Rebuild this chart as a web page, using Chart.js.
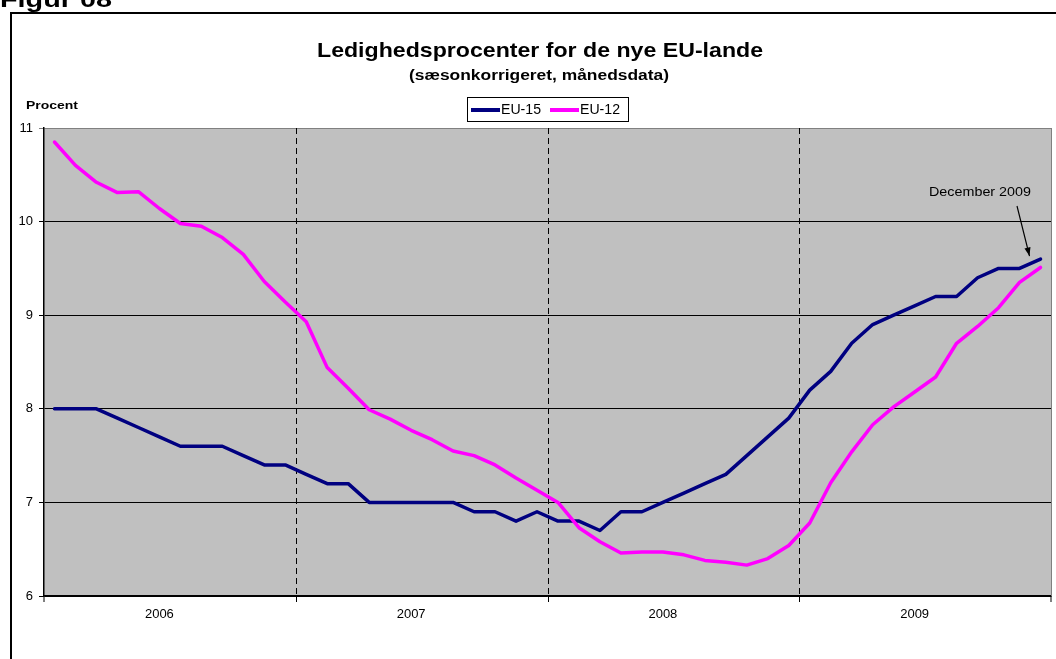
<!DOCTYPE html>
<html>
<head>
<meta charset="utf-8">
<title>Ledighedsprocenter for de nye EU-lande</title>
<script src="https://cdn.jsdelivr.net/npm/chart.js@4.4.1/dist/chart.umd.min.js"></script>
<style>
  html, body { margin: 0; padding: 0; background: #fff; }
  #wrap { width: 1056px; height: 659px; }
</style>
</head>
<body>
<div id="wrap"><canvas id="chart" width="1056" height="659"></canvas></div>
<script>
// Monthly data, Jan 2006 - Dec 2009
const years = ["2006", "2007", "2008", "2009"];
const months = [];
years.forEach(y => { for (let m = 1; m <= 12; m++) months.push(y + "-" + String(m).padStart(2, "0")); });

const eu15 = [
  8.0, 8.0, 8.0, 7.9, 7.8, 7.7, 7.6, 7.6, 7.6, 7.5, 7.4, 7.4,
  7.3, 7.2, 7.2, 7.0, 7.0, 7.0, 7.0, 7.0, 6.9, 6.9, 6.8, 6.9,
  6.8, 6.8, 6.7, 6.9, 6.9, 7.0, 7.1, 7.2, 7.3, 7.5, 7.7, 7.9,
  8.2, 8.4, 8.7, 8.9, 9.0, 9.1, 9.2, 9.2, 9.4, 9.5, 9.5, 9.6
];
const eu12 = [
  10.85, 10.6, 10.42, 10.31, 10.32, 10.14, 9.98, 9.95, 9.83, 9.65, 9.36, 9.14,
  8.93, 8.44, 8.22, 7.99, 7.89, 7.77, 7.67, 7.55, 7.5, 7.4, 7.26, 7.13,
  7.0, 6.73, 6.58, 6.46, 6.47, 6.47, 6.44, 6.38, 6.36, 6.33, 6.4, 6.54,
  6.78, 7.21, 7.54, 7.83, 8.02, 8.18, 8.34, 8.7, 8.88, 9.08, 9.35, 9.51
];
const yMin = 6, yMax = 11;

const NAVY = "#000080";
const PINK = "#FF00FF";
const FONT = "'Liberation Sans', Arial, sans-serif";

// draw text squeezed/stretched to a given width
function fitText(ctx, text, x, y, font, width, align, baseline) {
  ctx.save();
  ctx.font = font;
  ctx.textBaseline = baseline || "middle";
  ctx.textAlign = "left";
  const w = ctx.measureText(text).width;
  const sx = width / w;
  let left = x;
  if (align === "center") left = x - width / 2;
  ctx.translate(left, y);
  ctx.scale(sx, 1);
  ctx.fillText(text, 0, 0);
  ctx.restore();
}

const decorations = {
  id: "decorations",
  beforeDraw(chart) {
    const ctx = chart.ctx;
    const a = chart.chartArea;
    ctx.save();
    ctx.fillStyle = "#fff";
    ctx.fillRect(0, 0, chart.width, chart.height);
    ctx.fillStyle = "#C0C0C0";
    ctx.fillRect(a.left, a.top, a.right - a.left, a.bottom - a.top);
    // outer frame
    ctx.strokeStyle = "#000";
    ctx.lineWidth = 2;
    ctx.strokeRect(11, 13, chart.width + 20, chart.height + 20);
    ctx.restore();
  },
  beforeDatasetsDraw(chart) {
    const ctx = chart.ctx;
    const a = chart.chartArea;
    const x = chart.scales.x;
    ctx.save();
    ctx.strokeStyle = "#000";
    ctx.lineWidth = 1;
    ctx.setLineDash([6, 4]);
    for (let i = 1; i < years.length; i++) {
      const px = Math.round((x.getPixelForValue(i * 12 - 1) + x.getPixelForValue(i * 12)) / 2) + 0.5;
      ctx.beginPath();
      ctx.moveTo(px, a.top);
      ctx.lineTo(px, a.bottom);
      ctx.stroke();
    }
    ctx.restore();
  },
  afterDraw(chart) {
    const ctx = chart.ctx;
    const a = chart.chartArea;
    const x = chart.scales.x;
    ctx.save();
    ctx.fillStyle = "#000";

    // heading cut at top edge
    fitText(ctx, "Figur 08", 0, 7, "bold 22px " + FONT, 112, "left", "alphabetic");

    fitText(ctx, "Ledighedsprocenter for de nye EU-lande", 540, 51, "bold 21px " + FONT, 446, "center");
    fitText(ctx, "(sæsonkorrigeret, månedsdata)", 539, 76, "bold 14px " + FONT, 260, "center");
    fitText(ctx, "Procent", 26, 106, "bold 11px " + FONT, 52, "left");

    // legend
    ctx.strokeStyle = "#000";
    ctx.lineWidth = 1;
    ctx.strokeRect(467.5, 97.5, 161, 24);
    ctx.lineWidth = 4;
    ctx.strokeStyle = NAVY;
    ctx.beginPath(); ctx.moveTo(471, 110); ctx.lineTo(500, 110); ctx.stroke();
    ctx.strokeStyle = PINK;
    ctx.beginPath(); ctx.moveTo(550, 110); ctx.lineTo(579, 110); ctx.stroke();
    fitText(ctx, "EU-15", 501, 110.5, "14px " + FONT, 40, "left");
    fitText(ctx, "EU-12", 580, 110.5, "14px " + FONT, 40, "left");

    // right edge of plot
    ctx.strokeStyle = "#808080";
    ctx.lineWidth = 1;
    ctx.beginPath(); ctx.moveTo(a.right + 0.5, a.top); ctx.lineTo(a.right + 0.5, a.bottom); ctx.stroke();

    // year tick marks under the x axis
    ctx.strokeStyle = "#000";
    const ticksX = [a.left, a.right];
    for (let i = 1; i < years.length; i++) {
      ticksX.push(Math.round((x.getPixelForValue(i * 12 - 1) + x.getPixelForValue(i * 12)) / 2) + 0.5);
    }
    ticksX.forEach(px => {
      ctx.beginPath(); ctx.moveTo(px, a.bottom); ctx.lineTo(px, a.bottom + 6); ctx.stroke();
    });

    // annotation for the last observation
    const last = months.length - 1;
    const tx = x.getPixelForValue(last) - 11;
    const ty = chart.scales.y.getPixelForValue(eu15[last]) - 3;
    fitText(ctx, "December 2009", 980, 192, "13px " + FONT, 102, "center");
    const sx = 1017, sy = 206;
    const ang = Math.atan2(ty - sy, tx - sx);
    ctx.lineWidth = 1.2;
    ctx.beginPath(); ctx.moveTo(sx, sy); ctx.lineTo(tx, ty); ctx.stroke();
    ctx.beginPath();
    ctx.moveTo(tx, ty);
    ctx.lineTo(tx - 9 * Math.cos(ang - 0.35), ty - 9 * Math.sin(ang - 0.35));
    ctx.lineTo(tx - 9 * Math.cos(ang + 0.35), ty - 9 * Math.sin(ang + 0.35));
    ctx.closePath();
    ctx.fill();
    ctx.restore();
  }
};

new Chart(document.getElementById("chart"), {
  type: "line",
  data: {
    labels: months,
    datasets: [
      { label: "EU-15", data: eu15, borderColor: NAVY, backgroundColor: NAVY, borderWidth: 3.5, order: 2 },
      { label: "EU-12", data: eu12, borderColor: PINK, backgroundColor: PINK, borderWidth: 3.5, order: 1 }
    ]
  },
  options: {
    responsive: false,
    animation: false,
    layout: { padding: { top: 128, right: 5, left: 0, bottom: 0 } },
    elements: {
      point: { radius: 0, hoverRadius: 0 },
      line: { tension: 0, borderJoinStyle: "round", borderCapStyle: "round" }
    },
    plugins: {
      legend: { display: false },
      title: { display: false },
      tooltip: { enabled: false }
    },
    scales: {
      x: {
        type: "category",
        offset: true,
        grid: { display: false, drawTicks: false },
        border: { display: true, color: "#000", width: 1.5 },
        ticks: {
          autoSkip: false,
          maxRotation: 0,
          padding: 11,
          color: "#000",
          font: { family: FONT, size: 13 },
          callback: (v, i) => (i % 12 === 5 ? years[Math.floor(i / 12)] : "")
        },
        afterFit: s => { s.height = 63; }
      },
      y: {
        min: yMin,
        max: yMax,
        ticks: { stepSize: 1, color: "#000", padding: 6, font: { family: FONT, size: 13 } },
        grid: {
          color: c => (c.tick && c.tick.value === yMax ? "#808080" : "#000"),
          lineWidth: 1,
          tickLength: 5
        },
        border: { display: true, color: "#000", width: 1.5 },
        afterFit: s => { s.width = 44; }
      }
    }
  },
  plugins: [decorations]
});
</script>
</body>
</html>
